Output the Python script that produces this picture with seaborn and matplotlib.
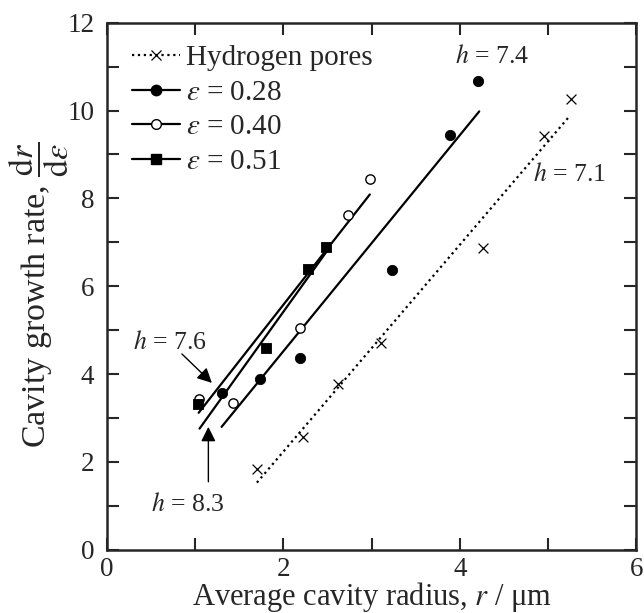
import numpy as np
import matplotlib
matplotlib.use("Agg")
import matplotlib.pyplot as plt
import seaborn as sns
from matplotlib.lines import Line2D
from matplotlib.ticker import MultipleLocator

# ─── data ────────────────────────────────────────────────────────────────────
h2_r = [1.70, 2.22, 2.62, 3.11, 4.26, 4.95, 5.26]
h2_rate = [1.85, 2.57, 3.78, 4.72, 6.86, 9.43, 10.27]
h2_fit_r = [1.70, 5.23]
h2_fit_rate = [1.53, 9.84]

e028_r = [1.30, 1.73, 2.19, 3.23, 3.89, 4.21]
e028_rate = [3.58, 3.90, 4.37, 6.38, 9.45, 10.68]
e028_fit_r = [1.30, 4.22]
e028_fit_rate = [2.80, 9.98]

e040_r = [1.04, 1.43, 2.19, 2.73, 2.98]
e040_rate = [3.44, 3.35, 5.06, 7.63, 8.45]
e040_fit_r = [1.04, 2.98]
e040_fit_rate = [3.12, 8.09]

e051_r = [1.03, 1.80, 2.28, 2.48]
e051_rate = [3.33, 4.60, 6.40, 6.90]
e051_fit_r = [1.05, 2.49]
e051_fit_rate = [2.76, 6.79]

sns.set_style("ticks")
plt.rcParams['font.family'] = ['Liberation Serif', 'DejaVu Serif']
plt.rcParams['mathtext.fontset'] = 'stix'

fig = plt.figure(figsize=(6.44, 6.13), dpi=100)
ax = fig.add_axes([0.166, 0.103, 0.822, 0.860])

# fit lines
sns.lineplot(x=h2_fit_r, y=h2_fit_rate, ax=ax, color='k', lw=1.6, linestyle=':', estimator=None)
for fx, fy in [(e028_fit_r, e028_fit_rate), (e040_fit_r, e040_fit_rate), (e051_fit_r, e051_fit_rate)]:
    sns.lineplot(x=fx, y=fy, ax=ax, color='k', lw=1.6, estimator=None)

# measured points
sns.scatterplot(x=h2_r, y=h2_rate, ax=ax, marker='x', color='k', s=50, linewidth=0.9, zorder=3)
sns.scatterplot(x=e028_r, y=e028_rate, ax=ax, marker='o', color='k', s=55, edgecolor='k', zorder=3)
sns.scatterplot(x=e040_r, y=e040_rate, ax=ax, marker='o', facecolor='white', edgecolor='k',
                s=45, linewidth=1.0, zorder=3)
sns.scatterplot(x=e051_r, y=e051_rate, ax=ax, marker='s', color='k', s=60, edgecolor='k', zorder=3)

ax.set_xlim(0, 6)
ax.set_ylim(0, 12)
ax.xaxis.set_major_locator(MultipleLocator(2))
ax.xaxis.set_minor_locator(MultipleLocator(1))
ax.yaxis.set_major_locator(MultipleLocator(2))
ax.yaxis.set_minor_locator(MultipleLocator(1))
ax.tick_params(which='both', direction='in', top=True, right=True, length=8.5, width=1.5)
ax.tick_params(axis='x', which='major', labelsize=19.5, pad=5.5)
ax.tick_params(axis='y', which='major', labelsize=19.5, pad=9)
for sp in ax.spines.values():
    sp.set_linewidth(1.8)

ax.set_xlabel(r'Average cavity radius, $r$ / μm', fontsize=22, labelpad=-2)
ax.set_ylabel(r'Cavity growth rate, $\dfrac{\mathrm{d}r}{\mathrm{d}\varepsilon}$', fontsize=24.5)
ax.yaxis.set_label_coords(-0.068, 0.483)

# slope annotations
ax.text(4.37, 11.23, r'$h$ = 7.4', fontsize=18.5, ha='center', va='center')
ax.text(5.24, 8.54, r'$h$ = 7.1', fontsize=18.5, ha='center', va='center')
ax.text(0.71, 4.72, r'$h$ = 7.6', fontsize=18.5, ha='center', va='center')
ax.text(0.92, 1.03, r'$h$ = 8.3', fontsize=18.5, ha='center', va='center')
arrow = dict(arrowstyle='-|>', color='k', lw=1.0, mutation_scale=22, shrinkA=0, shrinkB=0)
ax.annotate('', xy=(1.19, 3.80), xytext=(0.85, 4.46), arrowprops=arrow)
ax.annotate('', xy=(1.15, 2.80), xytext=(1.15, 1.55), arrowprops=arrow)

handles = [
    Line2D([], [], color='k', ls=':', lw=1.6, marker='x', ms=7, mew=0.9),
    Line2D([], [], color='k', lw=1.6, marker='o', ms=7.5),
    Line2D([], [], color='k', lw=1.6, marker='o', ms=7, mfc='white', mew=1.0),
    Line2D([], [], color='k', lw=1.6, marker='s', ms=7.5),
]
labels = ['Hydrogen pores', r'$\varepsilon$ = 0.28', r'$\varepsilon$ = 0.40', r'$\varepsilon$ = 0.51']
ax.legend(handles, labels, loc='upper left', bbox_to_anchor=(0.047, 0.958), frameon=False,
          fontsize=21, handlelength=1.65, handletextpad=0.2, labelspacing=0.28,
          borderpad=0, borderaxespad=0, numpoints=1)

fig.savefig('out.png', dpi=100)
